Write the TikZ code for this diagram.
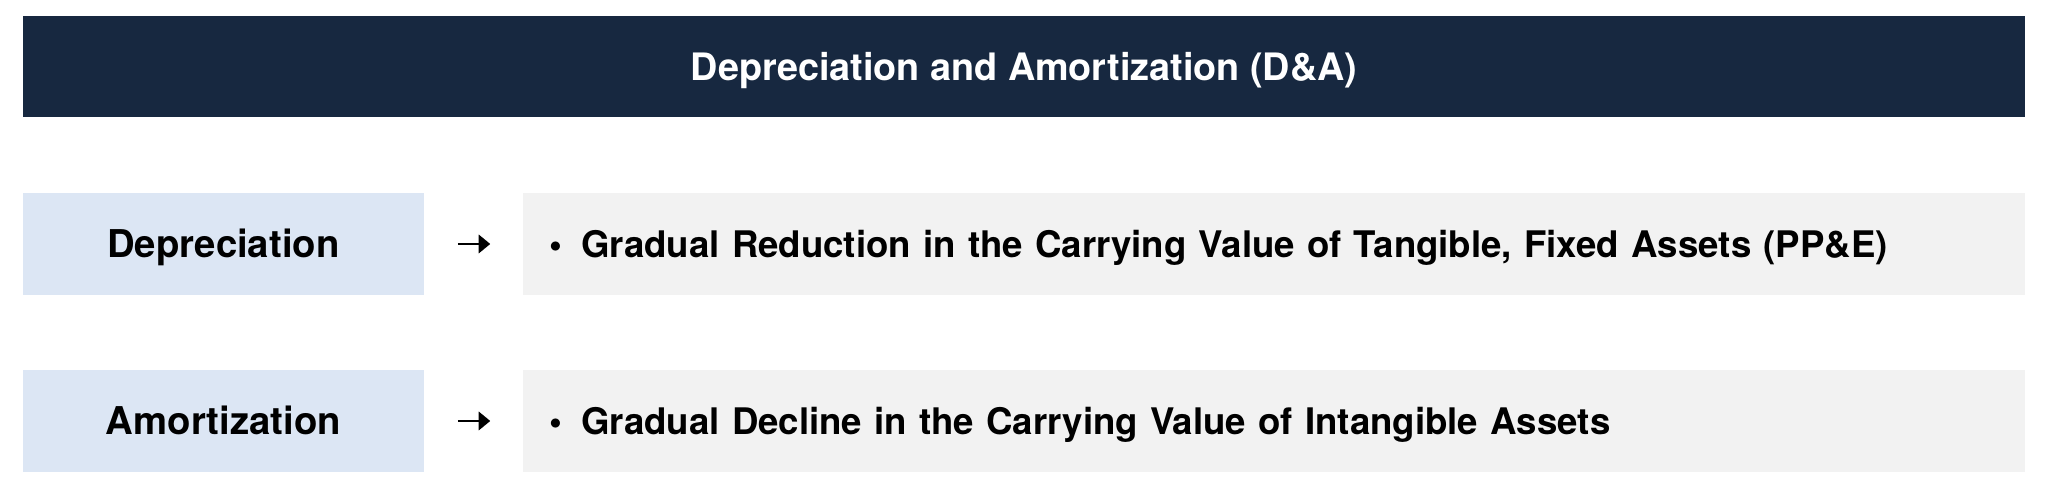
\documentclass[tikz,border=0pt]{standalone}
\usepackage{fontspec}
\setmainfont{TeX Gyre Heros}
\usetikzlibrary{positioning}
\usetikzlibrary{arrows.meta}
\definecolor{navy}{HTML}{172840}
\definecolor{catblue}{HTML}{DCE6F4}
\definecolor{descgray}{HTML}{F2F2F2}
\tikzset{>={Triangle[length=3.3pt,width=5.2pt]}}
\tikzset{hdr/.style={fill=navy, text=white, minimum width=20.02cm, minimum height=1.013cm, inner sep=0pt, text height=7.7pt, text depth=0pt, font=\fontsize{10.75}{12}\selectfont\bfseries}}
\tikzset{cat/.style={fill=catblue, minimum width=4.013cm, minimum height=1.02cm, inner sep=0pt, text height=7.8pt, text depth=0pt, font=\fontsize{10.9}{12}\selectfont\bfseries}}
\tikzset{desc/.style={fill=descgray, minimum width=15.02cm, minimum height=1.02cm, inner xsep=0.265cm, inner ysep=0pt, text width=14.49cm, align=left, text height=7.5pt, text depth=0pt, font=\fontsize{10.42}{12}\selectfont\bfseries}}
\tikzset{link/.style={->, line width=0.75pt, shorten <=0.33cm, shorten >=0.32cm}}

\begin{document}
\begin{tikzpicture}
\useasboundingbox (0,0) rectangle (20.48,-4.95);
\begin{scope}[on grid]
\node[hdr] (title) at (10.24,-0.667) {Depreciation and Amortization (D\&A)\hspace{0.32cm}};

\node[cat] (dep) at (2.234,-2.44) {Depreciation};
\node[desc] (depx) [right = 10.506cm of dep] {\textbullet\hspace{5.4pt}Gradual Reduction in the Carrying Value of Tangible, Fixed Assets (PP\&E)};
\node[cat] (amo) [below = 1.77cm of dep] {Amortization};
\node[desc] (amox) [below = 1.77cm of depx] {\textbullet\hspace{5.4pt}Gradual Decline in the Carrying Value of Intangible Assets};

\draw[link] (dep) -- (depx);
\draw[link] (amo) -- (amox);
\end{scope}
\end{tikzpicture}
\end{document}
